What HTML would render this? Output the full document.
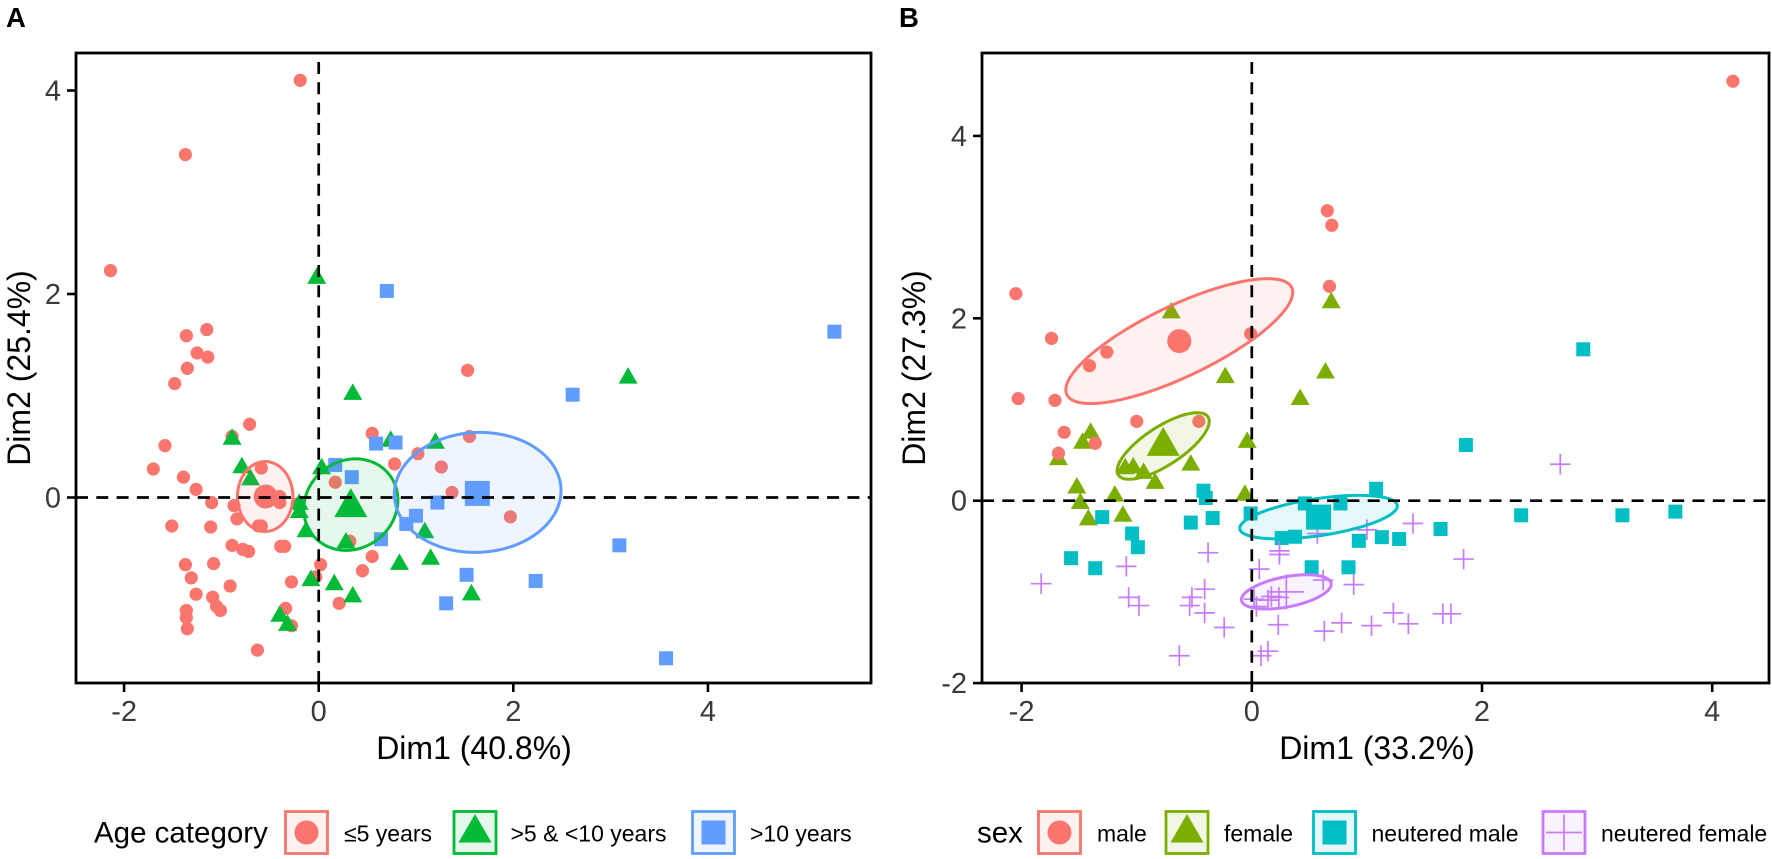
<!DOCTYPE html>
<html lang="en">
<head>
<meta charset="utf-8">
<title>PCA individuals by age category and sex</title>
<style>
html,body{margin:0;padding:0;background:#fff}
svg{display:block;font-family:"Liberation Sans",Arial,sans-serif}
.tick-text{font-size:29px;fill:#3a3a3a}
.axis-title{font-size:32px;fill:#000}
.legend-title{font-size:29.5px;fill:#000}
.legend-label{font-size:23px;fill:#000}
.tag{font-size:27.5px;font-weight:700;fill:#000}
</style>
</head>
<body>
<svg id="chart" xmlns="http://www.w3.org/2000/svg" width="1772" height="859" viewBox="0 0 1772 859">
  <rect x="0" y="0" width="1772" height="859" fill="#fff"/>
  <text class="tag" x="6" y="27">A</text>
  <text class="tag" x="899" y="27">B</text>
  <g id="panelA"></g>
  <g id="panelB"></g>

  <text class="axis-title" x="474" y="759" text-anchor="middle">Dim1 (40.8%)</text>
  <text class="axis-title" transform="translate(30,368) rotate(-90)" text-anchor="middle">Dim2 (25.4%)</text>
  <text class="axis-title" x="1377" y="759" text-anchor="middle">Dim1 (33.2%)</text>
  <text class="axis-title" transform="translate(925,368) rotate(-90)" text-anchor="middle">Dim2 (27.3%)</text>

  <g>
    <text class="legend-title" x="94" y="842.5">Age category</text>
    <g>
      <rect x="285.5" y="811.5" width="42" height="42" fill="#F8766D" fill-opacity="0.1" stroke="#F8766D" stroke-width="2.8"/>
      <circle cx="306.5" cy="832.5" r="12" fill="#FA756D"/>
      <text class="legend-label" x="344" y="841.5">≤5 years</text>
    </g>
    <g>
      <rect x="454" y="811.5" width="42" height="42" fill="#00BA38" fill-opacity="0.1" stroke="#00BA38" stroke-width="2.8"/>
      <polygon points="475,814 491.5,842.5 458.5,842.5" fill="#00BA38"/>
      <text class="legend-label" x="510.5" y="841.5">&gt;5 &amp; &lt;10 years</text>
    </g>
    <g>
      <rect x="692.5" y="811.5" width="42" height="42" fill="#619CFF" fill-opacity="0.1" stroke="#619CFF" stroke-width="2.8"/>
      <rect x="701.5" y="820.5" width="24" height="24" fill="#619CFF"/>
      <text class="legend-label" x="750" y="841.5">&gt;10 years</text>
    </g>
  </g>

  <g>
    <text class="legend-title" x="977" y="842.5">sex</text>
    <g>
      <rect x="1038.5" y="811.5" width="42" height="42" fill="#F8766D" fill-opacity="0.1" stroke="#F8766D" stroke-width="2.8"/>
      <circle cx="1059.5" cy="832.5" r="12" fill="#FA756D"/>
      <text class="legend-label" x="1097" y="841.5">male</text>
    </g>
    <g>
      <rect x="1166" y="811.5" width="42" height="42" fill="#7CAE00" fill-opacity="0.1" stroke="#7CAE00" stroke-width="2.8"/>
      <polygon points="1187,814 1203.5,842.5 1170.5,842.5" fill="#7CAE00"/>
      <text class="legend-label" x="1224" y="841.5">female</text>
    </g>
    <g>
      <rect x="1313.5" y="811.5" width="42" height="42" fill="#00BFC4" fill-opacity="0.1" stroke="#00BFC4" stroke-width="2.8"/>
      <rect x="1322.5" y="820.5" width="24" height="24" fill="#00BFC4"/>
      <text class="legend-label" x="1371.5" y="841.5">neutered male</text>
    </g>
    <g>
      <rect x="1543" y="811.5" width="42" height="42" fill="#C77CFF" fill-opacity="0.1" stroke="#C77CFF" stroke-width="2.8"/>
      <path d="M1546 832.5H1582M1564 814.5V850.5" stroke="#C77CFF" stroke-width="1.7" fill="none"/>
      <text class="legend-label" x="1601" y="841.5">neutered female</text>
    </g>
  </g>
</svg>

<script>
// ---------- Panel A tick labels ----------
const ticksAX = [-2, 0, 2, 4];
const ticksAY = [0, 2, 4];

// ---------- Panel A: <=5 years ----------
const youngDim1 = [-2.14,-1.15,-1.36,-1.25,-1.14,-1.35,-1.48,-0.71,-0.89,-1.58,-1.70,-1.39,-1.26,-1.10,-0.87,-0.59,-0.84,-0.40,-0.40,-1.51,-1.11,-0.62,-0.59,-0.21,0.17,-0.89,-0.78,-0.72,-0.39,-0.35,-1.08,-1.37,-1.31,-0.91,-1.26,-1.09,-1.05,-1.01,-1.36,-1.36,-1.35,-0.63,-0.28,-0.34,-0.28,-0.03,0.02,0.21,0.45,0.55,0.32,-0.19,-1.37,1.53,1.55,1.02,1.26,1.37,1.97,0.55,0.78];
const youngDim2 = [2.23,1.65,1.59,1.42,1.38,1.27,1.12,0.72,0.60,0.51,0.28,0.20,0.08,-0.05,-0.08,0.29,-0.21,0.01,-0.05,-0.28,-0.29,-0.28,-0.28,-0.06,0.15,-0.47,-0.51,-0.53,-0.48,-0.48,-0.65,-0.66,-0.79,-0.87,-0.95,-0.98,-1.07,-1.11,-1.11,-1.18,-1.29,-1.50,-1.26,-1.09,-0.83,-0.78,-0.66,-1.04,-0.72,-0.58,-0.43,4.10,3.37,1.25,0.60,0.43,0.30,0.05,-0.19,0.63,0.33];

// ---------- Panel A: >5 & <10 years ----------
const middleDim1 = [-0.02,0.35,-0.89,0.74,-0.79,-0.70,0.03,-0.20,-0.20,-0.13,0.28,0.83,-0.08,0.16,0.35,-0.40,-0.32,1.09,1.15,1.57,1.20,3.18];
const middleDim2 = [2.18,1.04,0.60,0.58,0.32,0.20,0.31,-0.04,-0.12,-0.31,-0.42,-0.63,-0.79,-0.83,-0.95,-1.14,-1.23,-0.32,-0.58,-0.93,0.56,1.20];

// ---------- Panel A: >10 years ----------
const seniorDim1 = [0.70,0.59,0.79,0.17,0.34,0.64,0.90,1.00,1.22,1.52,1.31,2.61,3.09,2.23,5.30,3.57];
const seniorDim2 = [2.03,0.53,0.54,0.32,0.20,-0.41,-0.26,-0.18,-0.05,-0.76,-1.04,1.01,-0.47,-0.82,1.63,-1.58];

// ---------- Panel A: group centres and ellipses (centre, sd-like radii, correlation) ----------
const ageCentreDim1 = [-0.545, 0.33, 1.63];
const ageCentreDim2 = [0.01, -0.05, 0.04];
const ageEllipseCx = [-0.55, 0.33, 1.634];
const ageEllipseCy = [0.01, -0.07, 0.05];
const ageEllipseRx = [0.285, 0.484, 0.857];
const ageEllipseRy = [0.344, 0.45, 0.59];
const ageEllipseCorr = [0.0, 0.1, 0.03];

// ---------- Panel B tick labels ----------
const ticksBX = [-2, 0, 2, 4];
const ticksBY = [-2, 0, 2, 4];

// ---------- Panel B: male ----------
const maleDim1 = [-2.05,-1.74,-1.26,-1.41,-2.03,-1.71,-1.00,-1.63,-1.36,-1.68,-0.46,0.656,0.695,0.675,-0.01,4.18];
const maleDim2 = [2.27,1.78,1.63,1.48,1.12,1.10,0.87,0.75,0.63,0.52,0.87,3.18,3.02,2.35,1.83,4.60];

// ---------- Panel B: female ----------
const femaleDim1 = [-0.70,0.69,0.64,-0.23,0.42,-0.04,-0.53,-0.84,-0.06,-1.19,-1.12,-1.10,-1.03,-0.94,-1.52,-1.49,-1.42,-1.40,-1.47,-1.68];
const femaleDim2 = [2.09,2.20,1.43,1.38,1.14,0.67,0.42,0.22,0.09,0.08,-0.14,0.38,0.39,0.33,0.17,0.00,-0.18,0.77,0.66,0.48];

// ---------- Panel B: neutered male ----------
const neuteredMaleDim1 = [-1.30,-1.04,-0.99,-1.57,-1.36,-0.42,-0.40,-0.53,-0.34,-0.01,0.46,0.77,1.08,0.26,0.375,0.93,1.13,1.28,0.52,0.84,1.64,2.34,3.22,3.68,1.86,2.88];
const neuteredMaleDim2 = [-0.18,-0.36,-0.51,-0.63,-0.74,0.11,0.03,-0.24,-0.19,-0.14,-0.03,-0.03,0.13,-0.41,-0.395,-0.44,-0.40,-0.42,-0.73,-0.73,-0.31,-0.16,-0.16,-0.12,0.61,1.66];

// ---------- Panel B: neutered female ----------
const neuteredFemaleDim1 = [1.40,1.00,0.57,-0.38,0.24,0.24,1.84,-1.09,0.065,0.62,0.885,-0.41,-1.07,-0.52,-0.54,-0.98,-0.41,0.17,0.235,0.02,0.14,0.04,-0.24,0.23,0.63,0.78,1.04,1.23,1.36,1.66,1.73,-0.63,0.14,0.08,-1.83,2.68];
const neuteredFemaleDim2 = [-0.25,-0.32,-0.36,-0.57,-0.55,-0.59,-0.64,-0.72,-0.75,-0.87,-0.92,-0.97,-1.06,-1.06,-1.15,-1.15,-1.23,-1.05,-1.06,-1.08,-1.09,-1.16,-1.39,-1.36,-1.43,-1.34,-1.37,-1.23,-1.35,-1.24,-1.24,-1.70,-1.65,-1.70,-0.91,0.40];

// ---------- Panel B: group centres and ellipses ----------
const sexCentreDim1 = [-0.63, -0.77, 0.58, 0.30];
const sexCentreDim2 = [1.75, 0.65, -0.18, -1.00];
const sexEllipseCx = [-0.63, -0.77, 0.58, 0.30];
const sexEllipseCy = [1.75, 0.60, -0.18, -1.00];
const sexEllipseRx = [0.986, 0.40, 0.685, 0.39];
const sexEllipseRy = [0.685, 0.365, 0.239, 0.188];
const sexEllipseCorr = [0.78, 0.74, 0.51, 0.45];

// ---------- Axis functions ----------
const frameA = {left: 76, right: 871, top: 53, bottom: 683};
const frameB = {left: 982, right: 1769, top: 53, bottom: 683};
function xA(v){ return 318.7 + 97.3 * v; }
function yA(v){ return 497.5 - 101.75 * v; }
function xB(v){ return 1251.8 + 115.1 * v; }
function yB(v){ return 500.7 - 91.2 * v; }

const NS = 'http://www.w3.org/2000/svg';
function make(parent, tag, attrs){
  const el = document.createElementNS(NS, tag);
  for (const k in attrs) el.setAttribute(k, attrs[k]);
  parent.appendChild(el);
  return el;
}
function layer(parent, name){
  const g = make(parent, 'g', {});
  
  
  return g;
}

function markCircle(g, px, py, r, color){
  const el = make(g, 'circle', {cx: px, cy: py, r: r, fill: color});
  
  
}
function markTriangle(g, px, py, w, h, color){
  const pts = [px + ',' + (py - h / 2), (px + w / 2) + ',' + (py + h / 2), (px - w / 2) + ',' + (py + h / 2)].join(' ');
  const el = make(g, 'polygon', {points: pts, fill: color});
  
  
}
function markSquare(g, px, py, s, color){
  const el = make(g, 'rect', {x: px - s / 2, y: py - s / 2, width: s, height: s, fill: color});
  
  
}
function markPlus(g, px, py, s, color){
  const d = 'M' + (px - s / 2) + ' ' + py + 'H' + (px + s / 2) + 'M' + px + ' ' + (py - s / 2) + 'V' + (py + s / 2);
  const el = make(g, 'path', {d: d, stroke: color, 'stroke-width': 1.7, fill: 'none'});
  
  
}
function drawMark(g, shape, px, py, big, color){
  if (shape === 'circle') markCircle(g, px, py, big ? 12 : 6.6, color);
  if (shape === 'triangle') markTriangle(g, px, py, big ? 33 : 19, big ? 29 : 16.5, color);
  if (shape === 'square') markSquare(g, px, py, big ? 25 : 14, color);
  if (shape === 'plus') markPlus(g, px, py, big ? 35 : 20.5, color);
}
function drawSeries(g, xs, ys, shape, color, sx, sy){
  xs.forEach(function(v, i){ drawMark(g, shape, sx(v), sy(ys[i]), false, color); });
}
function drawEllipse(g, cx, cy, rx, ry, corr, color, sx, sy){
  const steps = 96;
  let d = '';
  const q = Math.sqrt(1 - corr * corr);
  for (let i = 0; i < steps; i++){
    const t = 2 * Math.PI * i / steps;
    const dx = cx + rx * Math.cos(t);
    const dy = cy + ry * (corr * Math.cos(t) + q * Math.sin(t));
    d += (i ? 'L' : 'M') + sx(dx).toFixed(2) + ' ' + sy(dy).toFixed(2);
  }
  d += 'Z';
  const el = make(g, 'path', {d: d, fill: color, 'fill-opacity': 0.1, stroke: color, 'stroke-width': 3});
  
  
}
function drawZeroLines(g, frame, sx, sy){
  const h = make(g, 'line', {x1: frame.left, x2: frame.right, y1: sy(0), y2: sy(0), stroke: '#000', 'stroke-width': 2.7, 'stroke-dasharray': '12 8.3'});
  
  
  const v = make(g, 'line', {x1: sx(0), x2: sx(0), y1: frame.bottom, y2: frame.top, stroke: '#000', 'stroke-width': 2.7, 'stroke-dasharray': '12 8.3'});
  
  
}
function drawAxes(g, frame, xTicks, yTicks, sx, sy){
  xTicks.forEach(function(v){
    const t = make(g, 'line', {x1: sx(v), x2: sx(v), y1: frame.bottom, y2: frame.bottom + 9, stroke: '#000', 'stroke-width': 2.6});
    
    
    const l = make(g, 'text', {x: sx(v), y: 721, 'text-anchor': 'middle', 'class': 'tick-text'});
    l.textContent = String(v);
    
    
  });
  yTicks.forEach(function(v){
    const t = make(g, 'line', {x1: frame.left - 9, x2: frame.left, y1: sy(v), y2: sy(v), stroke: '#000', 'stroke-width': 2.6});
    
    
    const l = make(g, 'text', {x: frame.left - 15, y: sy(v) + 10, 'text-anchor': 'end', 'class': 'tick-text'});
    l.textContent = String(v);
    
    
  });
  const box = make(g, 'rect', {x: frame.left, y: frame.top, width: frame.right - frame.left, height: frame.bottom - frame.top, fill: 'none', stroke: '#000', 'stroke-width': 2.8});
  
  
}

// ---------- Panel A ----------
(function(){
  const root = document.getElementById('panelA');
  const colors = ['#FA756D', '#00BA38', '#619CFF'];
  const shapes = ['circle', 'triangle', 'square'];
  drawSeries(layer(root, 'under-5-years-points'), youngDim1, youngDim2, 'circle', colors[0], xA, yA);
  drawSeries(layer(root, 'five-to-ten-years-points'), middleDim1, middleDim2, 'triangle', colors[1], xA, yA);
  drawSeries(layer(root, 'over-10-years-points'), seniorDim1, seniorDim2, 'square', colors[2], xA, yA);
  const ell = layer(root, 'age-ellipses');
  ageEllipseCx.forEach(function(c, i){
    drawEllipse(ell, c, ageEllipseCy[i], ageEllipseRx[i], ageEllipseRy[i], ageEllipseCorr[i], colors[i], xA, yA);
  });
  const cen = layer(root, 'age-group-centres');
  ageCentreDim1.forEach(function(c, i){
    drawMark(cen, shapes[i], xA(c), yA(ageCentreDim2[i]), true, colors[i]);
  });
  drawZeroLines(layer(root, 'zero-lines'), frameA, xA, yA);
  drawAxes(layer(root, 'axes'), frameA, ticksAX, ticksAY, xA, yA);
})();

// ---------- Panel B ----------
(function(){
  const root = document.getElementById('panelB');
  const colors = ['#FA756D', '#7CAE00', '#00BFC4', '#C77CFF'];
  const shapes = ['circle', 'triangle', 'square', 'plus'];
  drawSeries(layer(root, 'female-points'), femaleDim1, femaleDim2, 'triangle', colors[1], xB, yB);
  drawSeries(layer(root, 'male-points'), maleDim1, maleDim2, 'circle', colors[0], xB, yB);
  drawSeries(layer(root, 'neutered-male-points'), neuteredMaleDim1, neuteredMaleDim2, 'square', colors[2], xB, yB);
  drawSeries(layer(root, 'neutered-female-points'), neuteredFemaleDim1, neuteredFemaleDim2, 'plus', colors[3], xB, yB);
  const ell = layer(root, 'sex-ellipses');
  sexEllipseCx.forEach(function(c, i){
    drawEllipse(ell, c, sexEllipseCy[i], sexEllipseRx[i], sexEllipseRy[i], sexEllipseCorr[i], colors[i], xB, yB);
  });
  const cen = layer(root, 'sex-group-centres');
  sexCentreDim1.forEach(function(c, i){
    drawMark(cen, shapes[i], xB(c), yB(sexCentreDim2[i]), true, colors[i]);
  });
  drawZeroLines(layer(root, 'zero-lines'), frameB, xB, yB);
  drawAxes(layer(root, 'axes'), frameB, ticksBX, ticksBY, xB, yB);
})();
</script>
</body>
</html>
